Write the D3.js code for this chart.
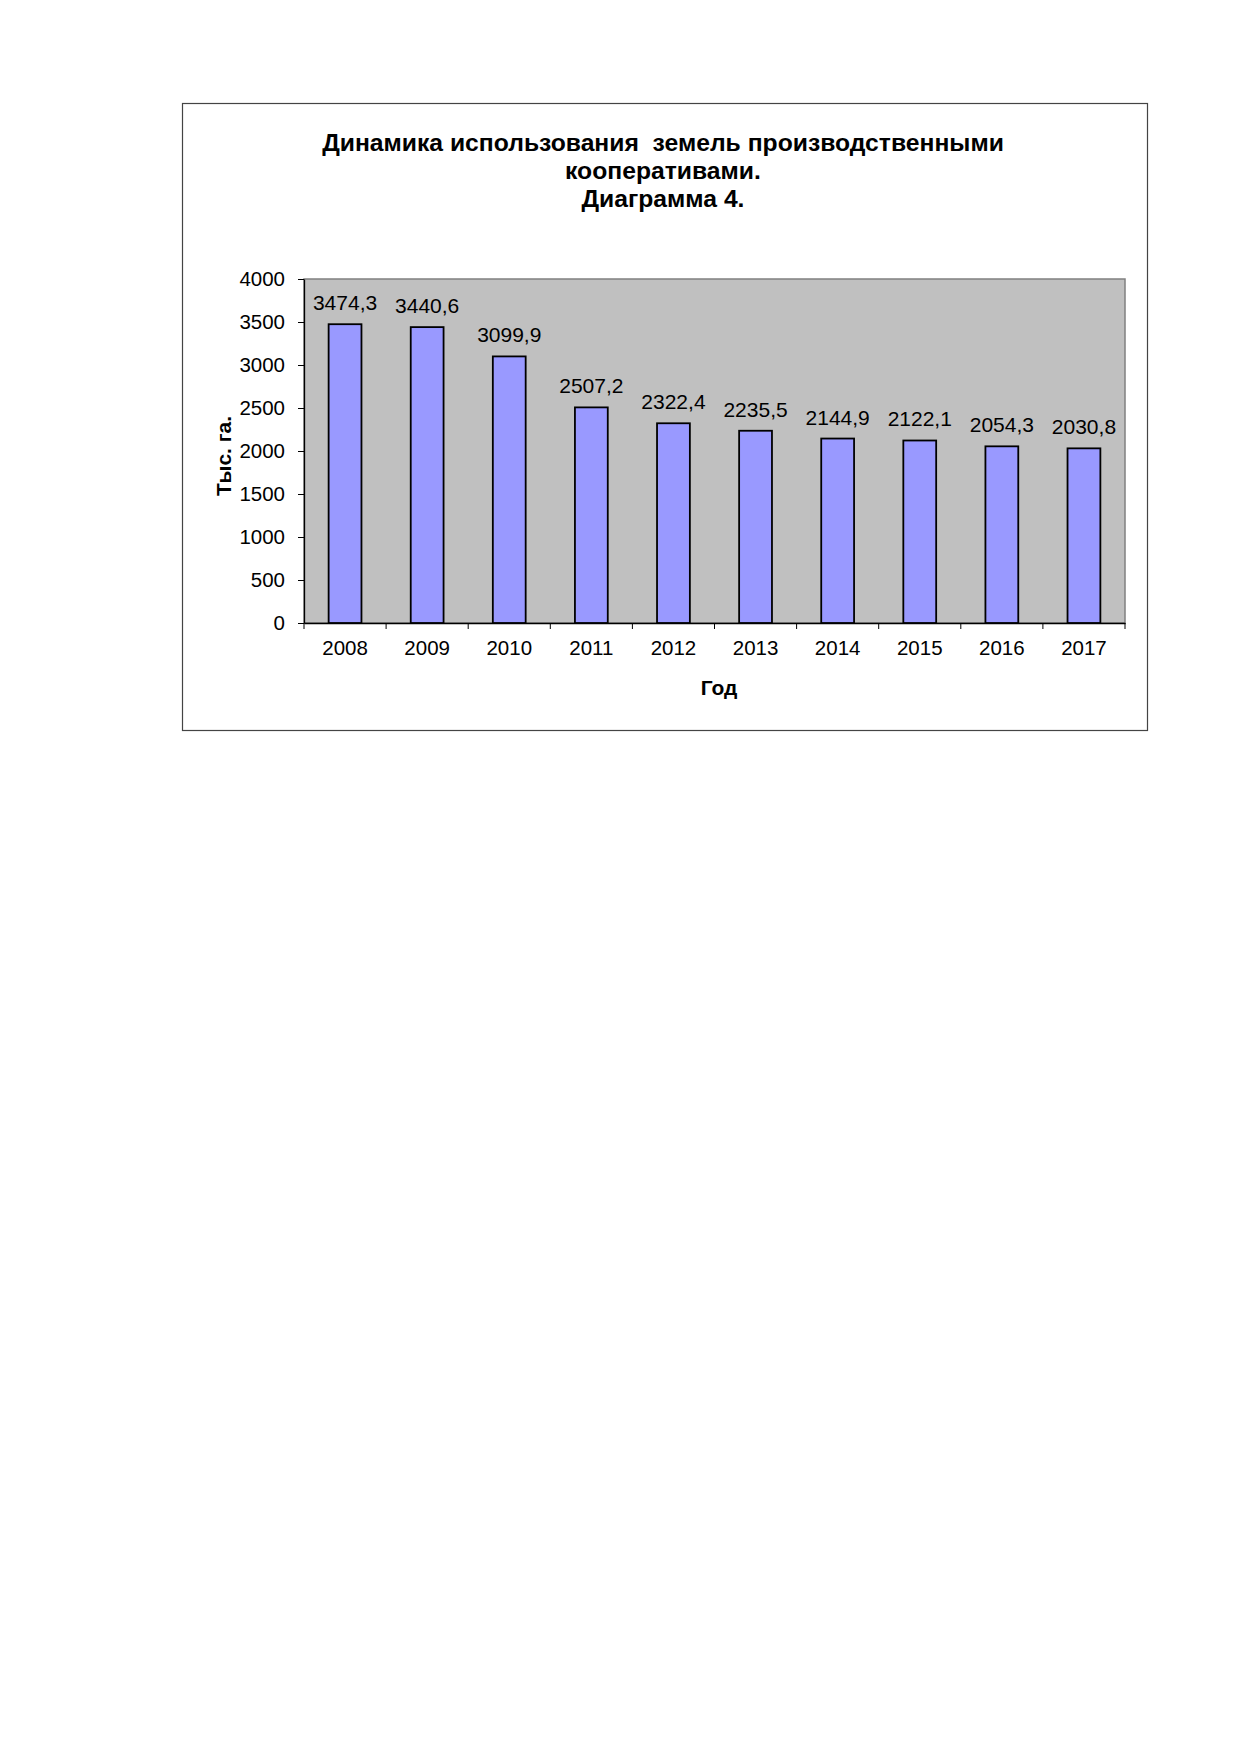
<!DOCTYPE html>
<html>
<head>
<meta charset="utf-8">
<script src="https://cdn.jsdelivr.net/npm/d3@7"></script>
<style>
  body { margin: 0; background: #fff; }
  text { font-family: "Liberation Sans", Arial, sans-serif; }
</style>
</head>
<body>
<svg></svg>
<script>
// data
var years = ["2008", "2009", "2010", "2011", "2012", "2013", "2014", "2015", "2016", "2017"];
var area = [3474.3, 3440.6, 3099.9, 2507.2, 2322.4, 2235.5, 2144.9, 2122.1, 2054.3, 2030.8];
var yTicks = [0, 500, 1000, 1500, 2000, 2500, 3000, 3500, 4000];
var titleLines = ["Динамика использования  земель производственными", "кооперативами.", "Диаграмма 4."];

var W = 1239, H = 1752;
// plot area inside the chart box
var margin = {top: 279, left: 304},
  width = 1125 - 304,
  height = 623 - 279;

var svg = d3.select("svg")
  .attr("width", W)
  .attr("height", H);

// outer chart frame
svg.append("rect")
  .attr("x", 182.5).attr("y", 103.5)
  .attr("width", 965).attr("height", 627)
  .style("fill", "#fff")
  .style("stroke", "#444")
  .style("stroke-width", 1.2);

// title
var title = svg.append("text")
  .attr("x", 663)
  .attr("y", 151)
  .style("text-anchor", "middle")
  .style("font-weight", "bold")
  .style("font-size", "24.7px")
  .style("white-space", "pre");
title.selectAll("tspan")
  .data(titleLines)
  .enter().append("tspan")
  .attr("x", 663)
  .attr("dy", function(d, i) { return i == 0 ? 0 : 28; })
  .text(function(d) { return d; });

var g = svg.append("g")
  .attr("transform", "translate(" + margin.left + "," + margin.top + ")");

var y = d3.scaleLinear()
  .domain([0, 4000])
  .range([height, 0]);

var x = d3.scaleBand()
  .domain(years)
  .range([0, width])
  .paddingInner(0.6)
  .paddingOuter(0.3);

// grey plot area
g.append("rect")
  .attr("width", width)
  .attr("height", height)
  .style("fill", "#c0c0c0")
  .style("stroke", "#808080")
  .style("stroke-width", 1.5);

// y axis
var yAxis = g.append("g")
  .call(d3.axisLeft(y).tickValues(yTicks).tickFormat(d3.format("d"))
    .tickSize(6).tickPadding(13).tickSizeOuter(0));
yAxis.select(".domain").style("stroke", "#000").style("stroke-width", 1.3);
yAxis.selectAll("text").style("font-size", "20.5px").style("fill", "#000");

// x axis: labels centered, ticks between categories
var xAxis = g.append("g")
  .attr("transform", "translate(0," + height + ")")
  .call(d3.axisBottom(x).tickSize(0).tickPadding(17).tickSizeOuter(0));
xAxis.select(".domain").style("stroke", "#000").style("stroke-width", 1.5);
xAxis.selectAll("text").style("font-size", "20.5px").style("fill", "#000");

var bounds = d3.range(years.length + 1).map(function(i) { return i * x.step(); });
xAxis.selectAll(".bound")
  .data(bounds)
  .enter().append("line")
  .attr("class", "bound")
  .attr("x1", function(d) { return d; })
  .attr("x2", function(d) { return d; })
  .attr("y1", 0)
  .attr("y2", 6)
  .style("stroke", "#000");

// bars
g.selectAll(".bar")
  .data(area)
  .enter().append("rect")
  .attr("class", "bar")
  .attr("x", function(d, i) { return x(years[i]); })
  .attr("y", function(d) { return y(d); })
  .attr("width", x.bandwidth())
  .attr("height", function(d) { return height - y(d); })
  .style("fill", "#9999ff")
  .style("stroke", "#000")
  .style("stroke-width", 1.8);

// value labels
g.selectAll(".val")
  .data(area)
  .enter().append("text")
  .attr("class", "val")
  .attr("x", function(d, i) { return x(years[i]) + x.bandwidth() / 2; })
  .attr("y", function(d) { return y(d) - 14; })
  .style("text-anchor", "middle")
  .style("font-size", "21px")
  .text(function(d) { return d.toFixed(1).replace(".", ","); });

// axis titles
svg.append("text")
  .attr("transform", "translate(231,456) rotate(-90)")
  .style("text-anchor", "middle")
  .style("font-weight", "bold")
  .style("font-size", "21px")
  .text("Тыс. га.");

svg.append("text")
  .attr("x", 719)
  .attr("y", 695)
  .style("text-anchor", "middle")
  .style("font-weight", "bold")
  .style("font-size", "21px")
  .text("Год");
</script>
</body>
</html>
